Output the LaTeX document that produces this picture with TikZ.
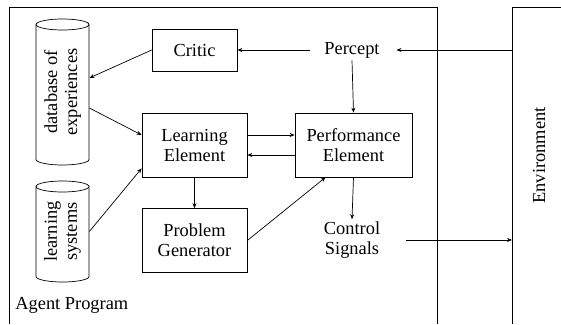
\documentclass[tikz,border=0pt]{standalone}
\usepackage{fontspec}
\setmainfont{Liberation Serif}
\usetikzlibrary{arrows.meta}

\tikzstyle{block}=[draw,align=center,inner sep=2pt,minimum width=105pt,minimum height=64pt]
\tikzstyle{store}=[rotate=90,align=center,inner sep=1pt,minimum height=53pt]
\tikzstyle{signal}=[align=center,inner xsep=14pt,inner ysep=2pt]
\tikzstyle{arr}=[-{Stealth[length=5pt,width=4pt]}]

\begin{document}
\begin{tikzpicture}[x=1pt,y=-1pt,line width=0.7pt,font=\rmfamily\fontsize{18.4}{20}\selectfont]
    \useasboundingbox (0,0) rectangle (561,324);
    %Frames
    \draw (9,324) |- (437,7) -- (437,324);
    \draw (561,7) -| (512,324);
    \node[anchor=west,inner sep=0pt] (agent) at (15,305) {Agent Program};
    \node[rotate=90] (env) at (539,155.5) {Environment};
    \coordinate (envin) at (512,50);
    \coordinate (envout) at (512,240);
    %Stores
    \node[store,minimum width=146pt] (db) at (62.5,92) {database of\\experiences};
    \node[store,minimum width=101pt] (ls) at (62.5,231.5) {learning\\systems};
    \foreach \name/\half in {db/73pt,ls/50.5pt}{
        \draw ([yshift=\half-5.5pt]\name.center) ellipse [x radius=26.5pt,y radius=5.5pt];
        \draw ([shift={(-26.5pt,\half-5.5pt)}]\name.center)
            -- ([shift={(-26.5pt,5.5pt-\half)}]\name.center)
            arc [start angle=180,end angle=360,x radius=26.5pt,y radius=5.5pt]
            -- ([shift={(26.5pt,\half-5.5pt)}]\name.center);
    }
    %Blocks
    \node[block,minimum width=85pt,minimum height=42pt] (critic) at (194.5,50) {Critic};
    \foreach \pos/\name/\text in {{(194.5,145)/le/Learning\\Element},
                                  {(194.5,240.5)/pg/Problem\\Generator}}
    \node[block] (\name) at \pos {\text};
    \node[block,minimum width=117pt] (pe) at (353.5,145) {Performance\\Element};
    %Signals
    \node[signal] (percept) at (352,50) {Percept};
    \node[signal] (cs) at (352,240) {Control\\Signals};
    %Arrows
    \draw[arr] (envin) -- ([xshift=2.5pt]percept.east);
    \draw[arr] (percept.west) -- (critic.east);
    \draw[arr] (percept.south) -- (pe.north);
    \draw[arr] (critic.west) -- ([yshift=14pt]db.south);
    \draw[arr] ([yshift=-16pt]db.south) -- ([yshift=10pt]le.west);
    \draw[arr] (ls.south) -- ([yshift=9pt]le.south west);
    \draw[arr] ([yshift=10pt]le.east) -- ([yshift=10pt]pe.west);
    \draw[arr] ([yshift=-10pt]pe.west) -- ([yshift=-10pt]le.east);
    \draw[arr] (le.south) -- (pg.north);
    \draw[arr] (pg.east) -- ([xshift=-28pt]pe.south);
    \draw[arr] (pe.south) -- (cs.north);
    \draw[arr] ([xshift=12pt]cs.east) -- (envout);
\end{tikzpicture}
\end{document}
